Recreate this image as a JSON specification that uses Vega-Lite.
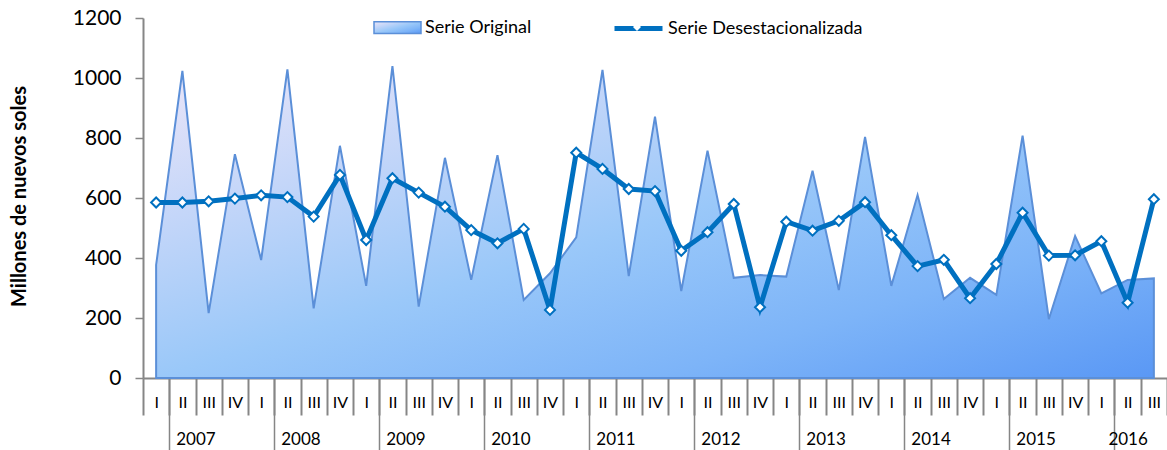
{
  "$schema": "https://vega.github.io/schema/vega-lite/v6.json",
  "width": 1024,
  "height": 360,
  "autosize": {"type": "none"},
  "padding": {"left": 143, "top": 18, "right": 0, "bottom": 72},
  "background": "white",
  "config": {
    "view": {"stroke": null},
    "axis": {"labelFont": "Lato", "titleFont": "Lato", "labelColor": "#000000", "titleColor": "#000000", "grid": false},
    "legend": {"labelFont": "Lato", "labelColor": "#000000", "padding": 0, "labelLimit": 400}
  },
  "data": {
    "values": [
      {"t": "2007-I", "orig": 377, "desest": 585},
      {"t": "2007-II", "orig": 1024, "desest": 585},
      {"t": "2007-III", "orig": 216, "desest": 589},
      {"t": "2007-IV", "orig": 746, "desest": 598},
      {"t": "2008-I", "orig": 393, "desest": 609},
      {"t": "2008-II", "orig": 1029, "desest": 603},
      {"t": "2008-III", "orig": 232, "desest": 538},
      {"t": "2008-IV", "orig": 774, "desest": 677},
      {"t": "2009-I", "orig": 307, "desest": 460},
      {"t": "2009-II", "orig": 1040, "desest": 666},
      {"t": "2009-III", "orig": 238, "desest": 618},
      {"t": "2009-IV", "orig": 734, "desest": 571},
      {"t": "2010-I", "orig": 327, "desest": 493},
      {"t": "2010-II", "orig": 743, "desest": 449},
      {"t": "2010-III", "orig": 260, "desest": 497},
      {"t": "2010-IV", "orig": 349, "desest": 227},
      {"t": "2011-I", "orig": 469, "desest": 751},
      {"t": "2011-II", "orig": 1027, "desest": 697},
      {"t": "2011-III", "orig": 340, "desest": 630},
      {"t": "2011-IV", "orig": 871, "desest": 623},
      {"t": "2012-I", "orig": 290, "desest": 424},
      {"t": "2012-II", "orig": 758, "desest": 486},
      {"t": "2012-III", "orig": 334, "desest": 580},
      {"t": "2012-IV", "orig": 343, "desest": 236},
      {"t": "2013-I", "orig": 338, "desest": 521},
      {"t": "2013-II", "orig": 691, "desest": 491},
      {"t": "2013-III", "orig": 293, "desest": 524},
      {"t": "2013-IV", "orig": 804, "desest": 586},
      {"t": "2014-I", "orig": 307, "desest": 476},
      {"t": "2014-II", "orig": 610, "desest": 373},
      {"t": "2014-III", "orig": 263, "desest": 394},
      {"t": "2014-IV", "orig": 334, "desest": 266},
      {"t": "2015-I", "orig": 277, "desest": 380},
      {"t": "2015-II", "orig": 808, "desest": 551},
      {"t": "2015-III", "orig": 196, "desest": 408},
      {"t": "2015-IV", "orig": 473, "desest": 409},
      {"t": "2016-I", "orig": 282, "desest": 456},
      {"t": "2016-II", "orig": 327, "desest": 251},
      {"t": "2016-III", "orig": 332, "desest": 596}
    ]
  },
  "layer": [
    {
      "mark": {
        "type": "area", "strokeWidth": 2, "interpolate": "linear",
        "fill": {"gradient": "linear", "x1": 0, "y1": 0, "x2": 1, "y2": 1,
          "stops": [
            {"offset": 0, "color": "#ece6f8"},
            {"offset": 0.25, "color": "#c4d6f9"},
            {"offset": 0.5, "color": "#9ac8f9"},
            {"offset": 0.75, "color": "#7db4f8"},
            {"offset": 1, "color": "#5a98f5"}
          ]}
      },
      "encoding": {
        "x": {
          "field": "t", "type": "ordinal",
          "scale": {"type": "band", "paddingInner": 0, "paddingOuter": 0},
          "axis": {
            "orient": "bottom", "title": null, "domain": true, "domainColor": "#868686", "domainWidth": 2,
            "ticks": true, "tickBand": "extent", "tickSize": 37, "tickColor": "#868686", "tickWidth": 2,
            "labelExpr": "split(datum.label, '-')[1]", "labelAngle": 0, "labelFontSize": 16,
            "labelBaseline": "middle", "labelPadding": -13, "labelOverlap": false
          }
        },
        "y": {
          "field": "orig", "type": "quantitative",
          "scale": {"domain": [0, 1200], "nice": false},
          "axis": {
            "title": "Millones de nuevos soles", "titleFontSize": 20, "titleFontWeight": "bold",
            "titleX": -114, "titleY": 178,
            "values": [0, 200, 400, 600, 800, 1000, 1200], "format": "d",
            "domainColor": "#868686", "domainWidth": 2, "tickColor": "#868686", "tickWidth": 1.5, "tickSize": 8,
            "labelFontSize": 21, "labelPadding": 14
          }
        },
        "stroke": {
          "datum": "Serie Original", "type": "nominal",
          "scale": {"range": ["#5b8fd8"]},
          "legend": {
            "orient": "none", "legendX": 230, "legendY": -15, "title": null,
            "symbolType": "M-1,-0.25H1V0.25H-1Z", "symbolSize": 2209,
            "symbolFillColor": "#aecff7", "symbolStrokeColor": "#4f86d6", "symbolStrokeWidth": 1.5,
            "labelFontSize": 18, "labelOffset": 3
          }
        }
      }
    },
    {
      "mark": {"type": "line", "strokeWidth": 5},
      "encoding": {
        "x": {
          "field": "t", "type": "ordinal",
          "scale": {"type": "band", "paddingInner": 0, "paddingOuter": 0},
          "axis": {
            "orient": "bottom", "title": null, "domain": false,
            "ticks": true, "tickBand": "extent", "tickSize": 72, "tickColor": "#868686", "tickWidth": 1.5,
            "tickOpacity": {"condition": {"test": "split(datum.value, '-')[1] === 'I'", "value": 1}, "value": 0},
            "labelExpr": "split(datum.value, '-')[1] === 'II' ? split(datum.value, '-')[0] : ''",
            "labelOffset": {"condition": {"test": "datum.value === '2016-II'", "value": 0}, "value": 13},
            "labelAngle": 0, "labelFontSize": 17, "labelBaseline": "middle", "labelPadding": -11, "labelOverlap": false
          }
        },
        "y": {
          "field": "desest", "type": "quantitative",
          "scale": {"domain": [0, 1200], "nice": false},
          "axis": {
            "title": "Millones de nuevos soles", "titleFontSize": 20, "titleFontWeight": "bold",
            "titleX": -114, "titleY": 178,
            "values": [0, 200, 400, 600, 800, 1000, 1200], "format": "d",
            "domainColor": "#868686", "domainWidth": 2, "tickColor": "#868686", "tickWidth": 1.5, "tickSize": 8,
            "labelFontSize": 21, "labelPadding": 14
          }
        },
        "stroke": {
          "datum": "Serie Desestacionalizada", "type": "nominal",
          "scale": {"range": ["#0070c0"]},
          "legend": {
            "orient": "none", "legendX": 469, "legendY": -16, "title": null,
            "symbolType": "stroke", "symbolSize": 2304, "symbolStrokeWidth": 5,
            "labelFontSize": 18, "labelOffset": 3
          }
        }
      }
    },
    {
      "mark": {"type": "point", "shape": "diamond", "filled": true, "fill": "white", "stroke": "#0070c0", "strokeWidth": 2, "size": 100, "opacity": 1},
      "encoding": {
        "x": {
          "field": "t", "type": "ordinal",
          "scale": {"type": "band", "paddingInner": 0, "paddingOuter": 0},
          "axis": null
        },
        "y": {
          "field": "desest", "type": "quantitative",
          "scale": {"domain": [0, 1200], "nice": false},
          "axis": {
            "title": "Millones de nuevos soles", "titleFontSize": 20, "titleFontWeight": "bold",
            "titleX": -114, "titleY": 178,
            "values": [0, 200, 400, 600, 800, 1000, 1200], "format": "d",
            "domainColor": "#868686", "domainWidth": 2, "tickColor": "#868686", "tickWidth": 1.5, "tickSize": 8,
            "labelFontSize": 21, "labelPadding": 14
          }
        },
        "shape": {
          "datum": "d", "type": "nominal",
          "scale": {"range": ["diamond"]},
          "legend": {
            "orient": "none", "legendX": 489, "legendY": 4, "title": null,
            "symbolSize": 64, "symbolFillColor": "white", "symbolStrokeColor": "#0070c0", "symbolStrokeWidth": 2,
            "labelExpr": "''", "labelFontSize": 1
          }
        }
      }
    }
  ],
  "resolve": {
    "axis": {"x": "independent"},
    "scale": {"stroke": "independent", "shape": "independent"}
  }
}
